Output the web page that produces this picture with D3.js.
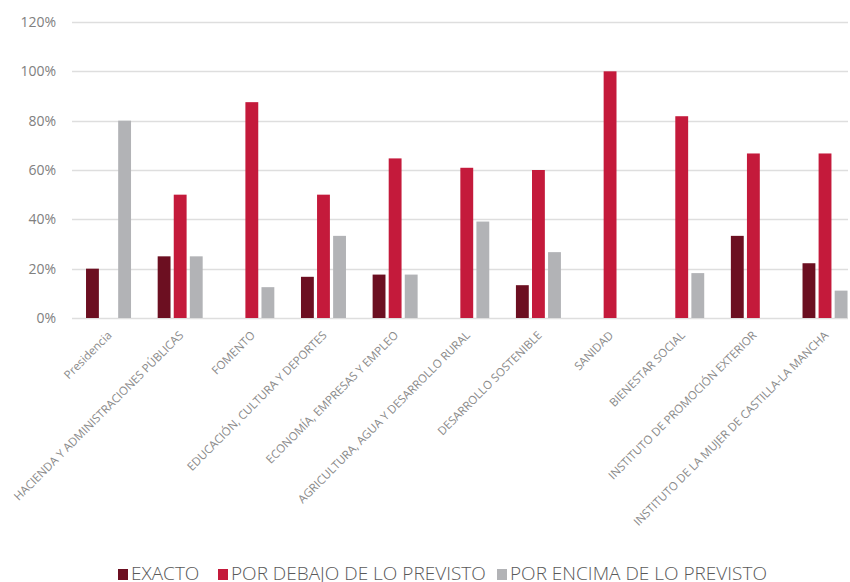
<!DOCTYPE html>
<html>
<head>
<meta charset="utf-8">
<script src="https://cdn.jsdelivr.net/npm/d3@7"></script>
<style>
  body { margin: 0; background: #fff; }
  svg text { font-family: "Open Sans", "Noto Sans", sans-serif; }
</style>
</head>
<body>
<div id="chart"></div>
<script>
// data (percent)
var categories = ["Presidencia", "HACIENDA Y ADMINISTRACIONES PÚBLICAS", "FOMENTO",
  "EDUCACIÓN, CULTURA Y DEPORTES", "ECONOMÍA, EMPRESAS Y EMPLEO",
  "AGRICULTURA, AGUA Y DESARROLLO RURAL", "DESARROLLO SOSTENIBLE", "SANIDAD",
  "BIENESTAR SOCIAL", "INSTITUTO DE PROMOCIÓN EXTERIOR",
  "INSTITUTO DE LA MUJER DE CASTILLA-LA MANCHA"];
var seriesNames = ["EXACTO", "POR DEBAJO DE LO PREVISTO", "POR ENCIMA DE LO PREVISTO"];
var exacto =  [20, 25, 0, 16.7, 17.6, 0, 13.3, 0, 0, 33.3, 22.2];
var debajo =  [0, 50, 87.5, 50, 64.7, 60.9, 60, 100, 81.8, 66.7, 66.7];
var encima =  [80, 25, 12.5, 33.3, 17.6, 39.1, 26.7, 0, 18.2, 0, 11.1];
var yTicks = [0, 20, 40, 60, 80, 100, 120];
var colors = ["#6c0f21", "#c41a3b", "#b2b3b6"];

var width = 850, height = 582;
var margin = {top: 22, bottom: 264, left: 72};
var gridRight = 848;

var svg = d3.select("#chart").append("svg")
  .attr("width", width)
  .attr("height", height);

// category bands run slightly past the right edge, as in the original
var x = d3.scaleBand()
  .domain(categories)
  .range([72.7, 72.7 + 71.65 * categories.length]);

var y = d3.scaleLinear()
  .domain([0, 120])
  .range([height - margin.bottom, margin.top]);

// grid
svg.append("g")
  .selectAll("line")
  .data(yTicks)
  .join("line")
  .attr("x1", margin.left)
  .attr("x2", gridRight)
  .attr("y1", function(d) { return Math.round(y(d)) + 0.5; })
  .attr("y2", function(d) { return Math.round(y(d)) + 0.5; })
  .attr("stroke", "#dedede")
  .attr("stroke-width", 1.3);

// y labels
var yAxis = d3.axisLeft(y).tickValues(yTicks).tickSize(0).tickPadding(0)
  .tickFormat(function(d) { return d + "%"; });
svg.append("g")
  .attr("transform", "translate(56,0)")
  .call(yAxis)
  .call(function(g) { g.select(".domain").remove(); })
  .selectAll("text")
  .attr("fill", "#808080")
  .style("font-size", "14px")
  .style("font-family", "'Open Sans', sans-serif");

// bars
var table = categories.map(function(c, i) {
  return {cat: c, vals: [exacto[i], debajo[i], encima[i]]};
});

var inner = d3.scaleBand()
  .domain(d3.range(seriesNames.length))
  .range([0, 45])
  .paddingInner(0.2);

var groups = svg.append("g")
  .selectAll("g")
  .data(table)
  .join("g")
  .attr("transform", function(d) {
    return "translate(" + (x(d.cat) + x.bandwidth() / 2 - 22.5) + ",0)";
  });

groups.selectAll("rect")
  .data(function(d) { return d.vals; })
  .join("rect")
  .attr("x", function(d, i) { return inner(i); })
  .attr("width", inner.bandwidth())
  .attr("y", function(d) { return y(d); })
  .attr("height", function(d) { return y(0) - y(d); })
  .attr("fill", function(d, i) { return colors[i]; })
  .style("display", function(d) { return d > 0 ? null : "none"; });

// x labels
svg.append("g")
  .selectAll("text")
  .data(categories)
  .join("text")
  .attr("transform", function(d) {
    return "translate(" + (x(d) + x.bandwidth() / 2 + 4) + "," + (y(0) + 18) + ") rotate(-45)";
  })
  .attr("text-anchor", "end")
  .attr("fill", "#8a8a8a")
  .style("font-size", "11.5px")
  .text(function(d) { return d; });

// legend
var legend = svg.append("g");
var lx = [118, 218, 497];
seriesNames.forEach(function(s, i) {
  legend.append("rect")
    .attr("x", lx[i])
    .attr("y", 569)
    .attr("width", 10)
    .attr("height", 11)
    .attr("fill", colors[i]);
  legend.append("text")
    .attr("x", lx[i] + 13)
    .attr("y", 580)
    .attr("fill", "#595959")
    .style("font-size", "19px")
    .style("font-weight", "300")
    .text(s);
});
</script>
</body>
</html>
